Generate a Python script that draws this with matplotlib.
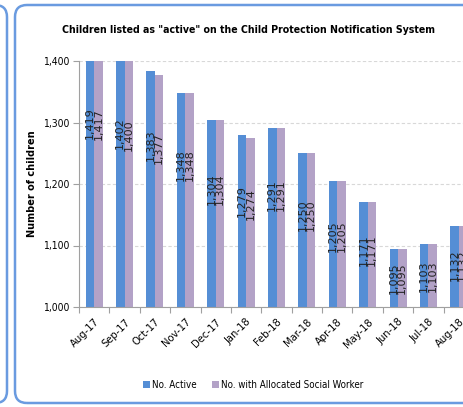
import numpy as np
import matplotlib.pyplot as plt
from matplotlib.patches import FancyBboxPatch
from matplotlib.transforms import IdentityTransform

months = ['Aug-17', 'Sep-17', 'Oct-17', 'Nov-17', 'Dec-17', 'Jan-18', 'Feb-18',
          'Mar-18', 'Apr-18', 'May-18', 'Jun-18', 'Jul-18', 'Aug-18']
active = [1419, 1402, 1383, 1348, 1304, 1279, 1291, 1250, 1205, 1171, 1095, 1103, 1132]
allocated = [1417, 1400, 1377, 1348, 1304, 1274, 1291, 1250, 1205, 1171, 1095, 1103, 1132]

cond = dict(family='DejaVu Sans', stretch='condensed')
blue = '#558ed5'
purple = '#b3a2c7'

fig = plt.figure(figsize=(4.63, 4.07), dpi=100)

# frames (pixel coords, origin bottom-left)
fig.patches.append(FancyBboxPatch((15, 4), 470, 398, boxstyle='round,pad=0,rounding_size=12',
                                  transform=IdentityTransform(), fc='none', ec='#6a9be0', lw=1.8, figure=fig))
fig.patches.append(FancyBboxPatch((-120, 4), 127, 398, boxstyle='round,pad=0,rounding_size=12',
                                  transform=IdentityTransform(), fc='none', ec='#6a9be0', lw=1.8, figure=fig))

ax = fig.add_axes([79/463, 1-307/407, (474-79)/463, (307-61)/407])
ax.patch.set_alpha(0)
x = np.arange(len(months))
w = 0.28
ax.bar(x - w/2, active, w, color=blue, label='No. Active', zorder=2)
ax.bar(x + w/2, allocated, w, color=purple, label='No. with Allocated Social Worker', zorder=2)

# value labels, rotated inside bars
for i in range(len(months)):
    for off, v in ((-w/2, active[i]), (w/2, allocated[i])):
        d = v - 1000
        ypos = 1000 + 0.42*d + 0.0007*d**2
        ax.text(x[i] + off, ypos, f'{v:,}', rotation=90, ha='center', va='center',
                fontsize=8, family='DejaVu Sans', color='#222222', zorder=3)

ax.set_xlim(-0.5, len(months) - 0.5)
ax.set_ylim(1000, 1400)
ax.set_yticks([1000, 1100, 1200, 1300, 1400])
ax.set_yticklabels([f'{t:,}' for t in [1000, 1100, 1200, 1300, 1400]], fontsize=7.5, **cond)
ax.set_xticks(np.arange(len(months) + 1) - 0.5)
ax.set_xticklabels([])
ax.set_xticks(x, minor=True)
ax.set_xticklabels(months, minor=True, rotation=45, ha='right', rotation_mode='anchor',
                   fontsize=8, **cond)
ax.tick_params(axis='x', which='minor', length=0, pad=7)
ax.tick_params(axis='x', which='major', length=4, color='#a0a0a0')
ax.tick_params(axis='y', length=4, color='#a0a0a0', pad=3)
ax.grid(axis='y', ls=(0, (3, 2)), color='#d8d8d8', lw=0.8, zorder=0)
for s in ['top', 'right']:
    ax.spines[s].set_visible(False)
for s in ['left', 'bottom']:
    ax.spines[s].set_color('#a0a0a0')
ax.set_ylabel('Number of children', family='DejaVu Sans', fontsize=7, fontweight='bold', labelpad=4)

fig.text(249/463, 1-30/407, 'Children listed as "active" on the Child Protection Notification System',
         ha='center', va='center', fontsize=7.6, fontweight='bold', **cond)

fig.legend(loc='center', bbox_to_anchor=(253/463, 22/407), ncol=2, frameon=False,
           prop={'family': 'DejaVu Sans', 'stretch': 'condensed', 'size': 7},
           handlelength=0.7, handleheight=0.7, handletextpad=0.2, columnspacing=1.6)

fig.savefig('out.png', dpi=100)
